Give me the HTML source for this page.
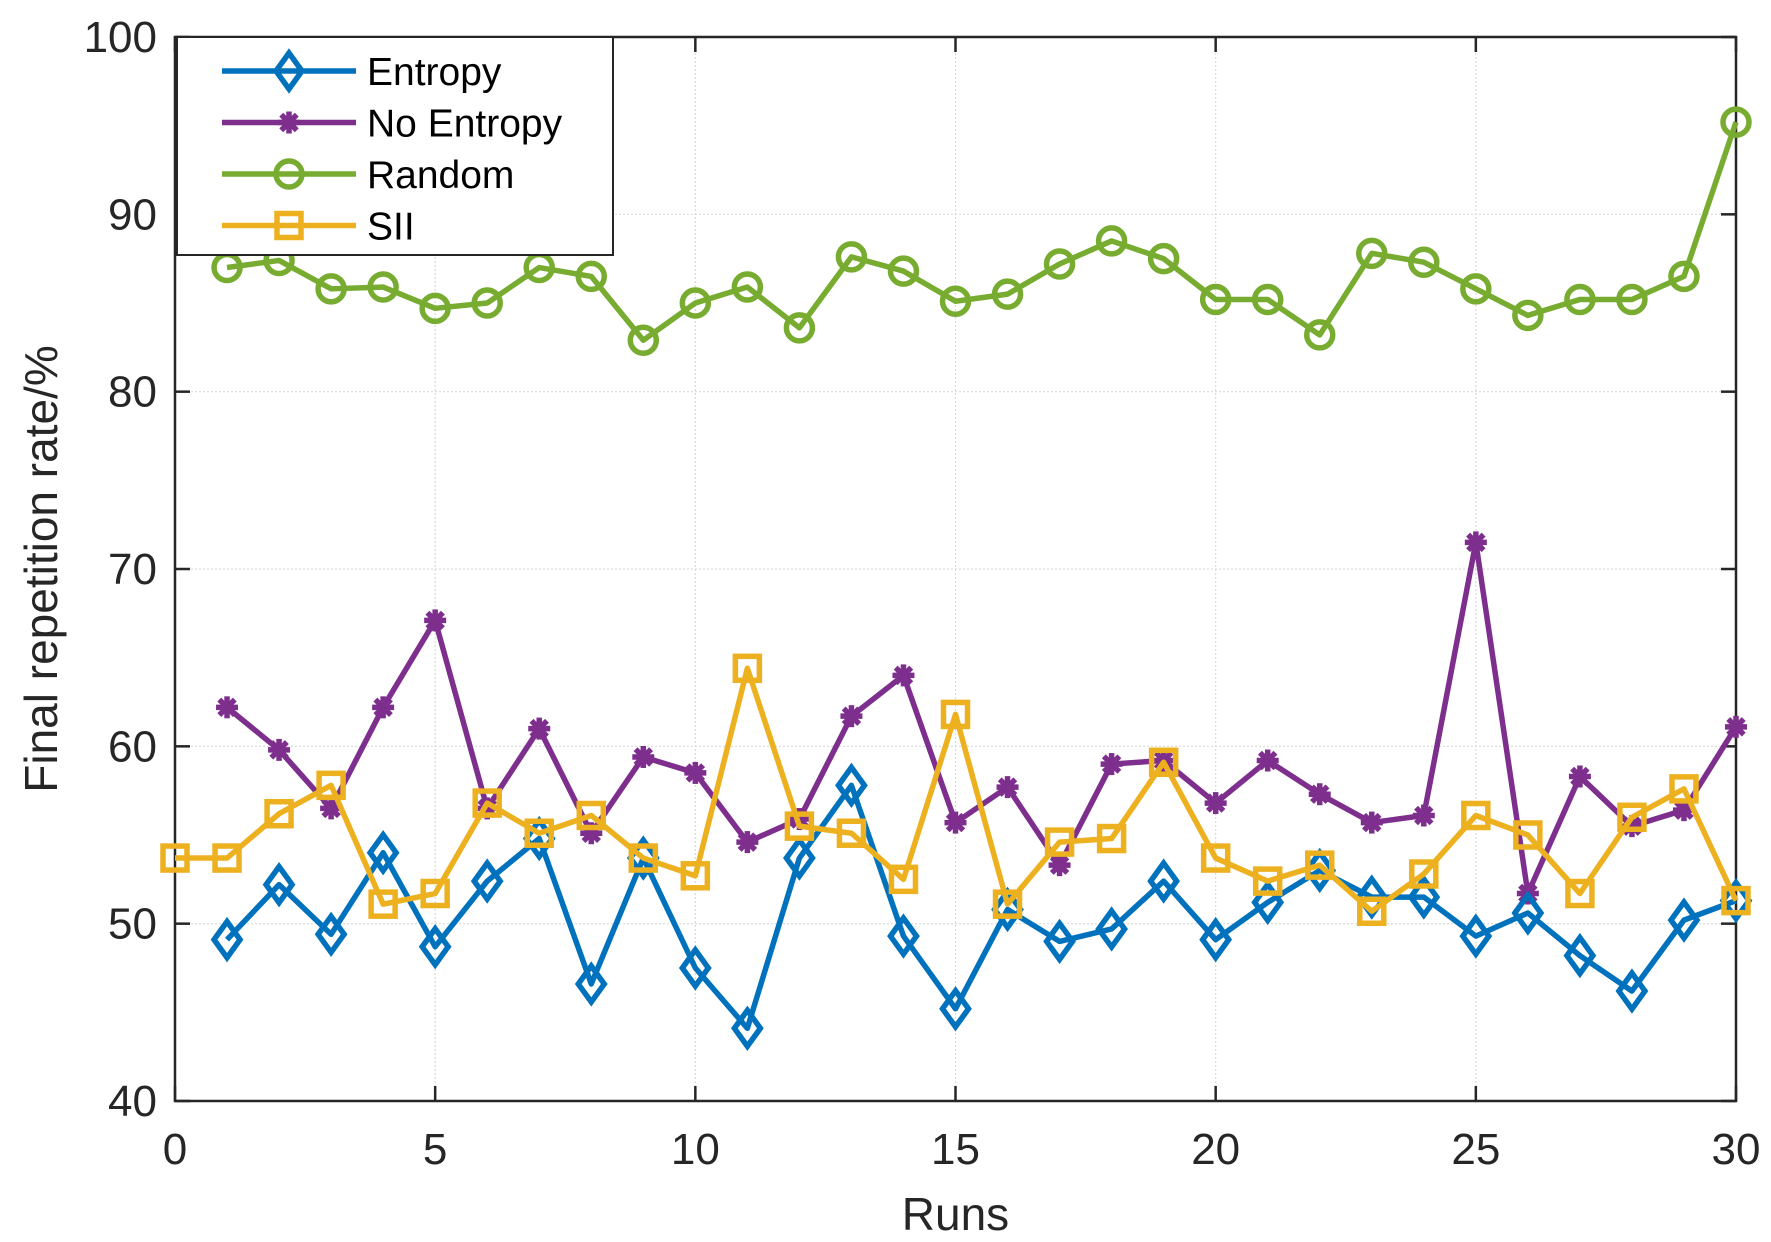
<!DOCTYPE html>
<html><head><meta charset="utf-8"><style>
html,body{margin:0;padding:0;background:#fff;}
svg{display:block;font-family:"Liberation Sans",Arial,sans-serif;}
</style></head><body>
<svg id="chart" width="1771" height="1242" viewBox="0 0 1771 1242" xmlns="http://www.w3.org/2000/svg"></svg>
<script>
const runsEntropy = [1,2,3,4,5,6,7,8,9,10,11,12,13,14,15,16,17,18,19,20,21,22,23,24,25,26,27,28,29,30];
const entropyValues = [49.1,52.2,49.4,54.0,48.7,52.4,54.8,46.6,53.7,47.5,44.1,53.7,57.8,49.3,45.2,50.8,49.0,49.7,52.4,49.1,51.2,53.0,51.5,51.5,49.3,50.6,48.2,46.2,50.2,51.3];
const noEntropyValues = [62.2,59.8,56.5,62.2,67.1,56.5,61.0,55.1,59.4,58.5,54.6,55.9,61.7,64.0,55.7,57.7,53.3,59.0,59.2,56.8,59.2,57.3,55.7,56.1,71.5,51.7,58.3,55.5,56.4,61.1];
const randomValues = [87.0,87.4,85.8,85.9,84.7,85.0,87.0,86.5,82.9,85.0,85.9,83.6,87.6,86.8,85.1,85.5,87.2,88.5,87.5,85.2,85.2,83.2,87.8,87.3,85.8,84.3,85.2,85.2,86.5,95.2];
const runsSII = [0,1,2,3,4,5,6,7,8,9,10,11,12,13,14,15,16,17,18,19,20,21,22,23,24,25,26,27,28,29,30];
const siiValues = [53.7,53.7,56.2,57.8,51.1,51.7,56.8,55.1,56.1,53.7,52.7,64.4,55.5,55.1,52.5,61.8,51.1,54.6,54.8,59.1,53.7,52.4,53.3,50.7,52.8,56.1,55.0,51.7,56.0,57.6,51.3];
const xTicks = [0,5,10,15,20,25,30];
const yTicks = [40,50,60,70,80,90,100];

const L=175,R=1736,T=37,B=1101;
const xs=v=>L+(v-0)/30*(R-L);
const ys=v=>B-(v-40)/60*(B-T);
const NS="http://www.w3.org/2000/svg";
const svg=document.getElementById('chart');
function mk(tag,attrs,parent){const e=document.createElementNS(NS,tag);for(const k in attrs)e.setAttribute(k,attrs[k]);(parent||svg).appendChild(e);return e;}

xTicks.forEach(t=>{const g=mk('line',{x1:xs(t),x2:xs(t),y1:T,y2:B,stroke:'#d9d9d9','stroke-width':1.2,'stroke-dasharray':'2,2'});

});
yTicks.forEach(t=>{const g=mk('line',{x1:L,x2:R,y1:ys(t),y2:ys(t),stroke:'#d9d9d9','stroke-width':1.2,'stroke-dasharray':'2,2'});

});
const box=mk('rect',{x:L,y:T,width:R-L,height:B-T,fill:'none',stroke:'#262626','stroke-width':2.5});


xTicks.forEach(t=>{
 mk('line',{x1:xs(t),x2:xs(t),y1:B,y2:B-15,stroke:'#262626','stroke-width':2.5});
 mk('line',{x1:xs(t),x2:xs(t),y1:T,y2:T+15,stroke:'#262626','stroke-width':2.5});
 const tx=mk('text',{x:xs(t),y:B+63,'text-anchor':'middle','font-size':44,fill:'#262626'});tx.textContent=t;
 
 
});
yTicks.forEach(t=>{
 mk('line',{x1:L,x2:L+15,y1:ys(t),y2:ys(t),stroke:'#262626','stroke-width':2.5});
 mk('line',{x1:R,x2:R-15,y1:ys(t),y2:ys(t),stroke:'#262626','stroke-width':2.5});
 const tx=mk('text',{x:L-18,y:ys(t)+15,'text-anchor':'end','font-size':44,fill:'#262626'});tx.textContent=t;
 
 
});
const xl=mk('text',{x:(L+R)/2,y:1230,'text-anchor':'middle','font-size':46,fill:'#262626'});xl.textContent='Runs';


const yl=mk('text',{x:0,y:0,'text-anchor':'middle','font-size':46,fill:'#262626',transform:`translate(57,${(T+B)/2}) rotate(-90)`});yl.textContent='Final repetition rate/%';



function marker(type,x,y,color,g){
 const sw=5.5;
 if(type==='diamond'){mk('polygon',{points:`${x},${y-18} ${x+13},${y} ${x},${y+18} ${x-13},${y}`,fill:'none',stroke:color,'stroke-width':sw},g);}
 else if(type==='circle'){mk('circle',{cx:x,cy:y,r:13,fill:'none',stroke:color,'stroke-width':sw},g);}
 else if(type==='square'){mk('rect',{x:x-12,y:y-12,width:24,height:24,fill:'none',stroke:color,'stroke-width':sw},g);}
 else if(type==='star'){[0,45,90,135].forEach(a=>{const r=a*Math.PI/180;mk('line',{x1:x-11*Math.cos(r),y1:y-11*Math.sin(r),x2:x+11*Math.cos(r),y2:y+11*Math.sin(r),stroke:color,'stroke-width':sw},g);});}
}
function series(name,xsArr,vals,color,type){
 const g=mk('g',{});
 
 
 const pts=xsArr.map((x,i)=>`${xs(x)},${ys(vals[i])}`).join(' ');
 const pl=mk('polyline',{points:pts,fill:'none',stroke:color,'stroke-width':5.5,'stroke-linejoin':'round'},g);
 
 
 xsArr.forEach((x,i)=>marker(type,xs(x),ys(vals[i]),color,g));
}
series('random',runsEntropy,randomValues,'#77ac30','circle');
series('no-entropy',runsEntropy,noEntropyValues,'#7e2f8e','star');
series('entropy',runsEntropy,entropyValues,'#0072bd','diamond');
series('sii',runsSII,siiValues,'#edb120','square');

const lg=mk('g',{});


mk('rect',{x:177,y:37,width:436,height:218,fill:'#fff',stroke:'#262626','stroke-width':2},lg);
const items=[['Entropy','#0072bd','diamond'],['No Entropy','#7e2f8e','star'],['Random','#77ac30','circle'],['SII','#edb120','square']];
items.forEach((it,i)=>{
 const y=71+i*51.5;
 const e=mk('g',{},lg);
 
 
 mk('line',{x1:222,x2:356,y1:y,y2:y,stroke:it[1],'stroke-width':5.5},e);
 marker(it[2],289,y,it[1],e);
 const t=mk('text',{x:367,y:y+14,'font-size':39,fill:'#000'},e);t.textContent=it[0];
});
</script>
</body></html>
